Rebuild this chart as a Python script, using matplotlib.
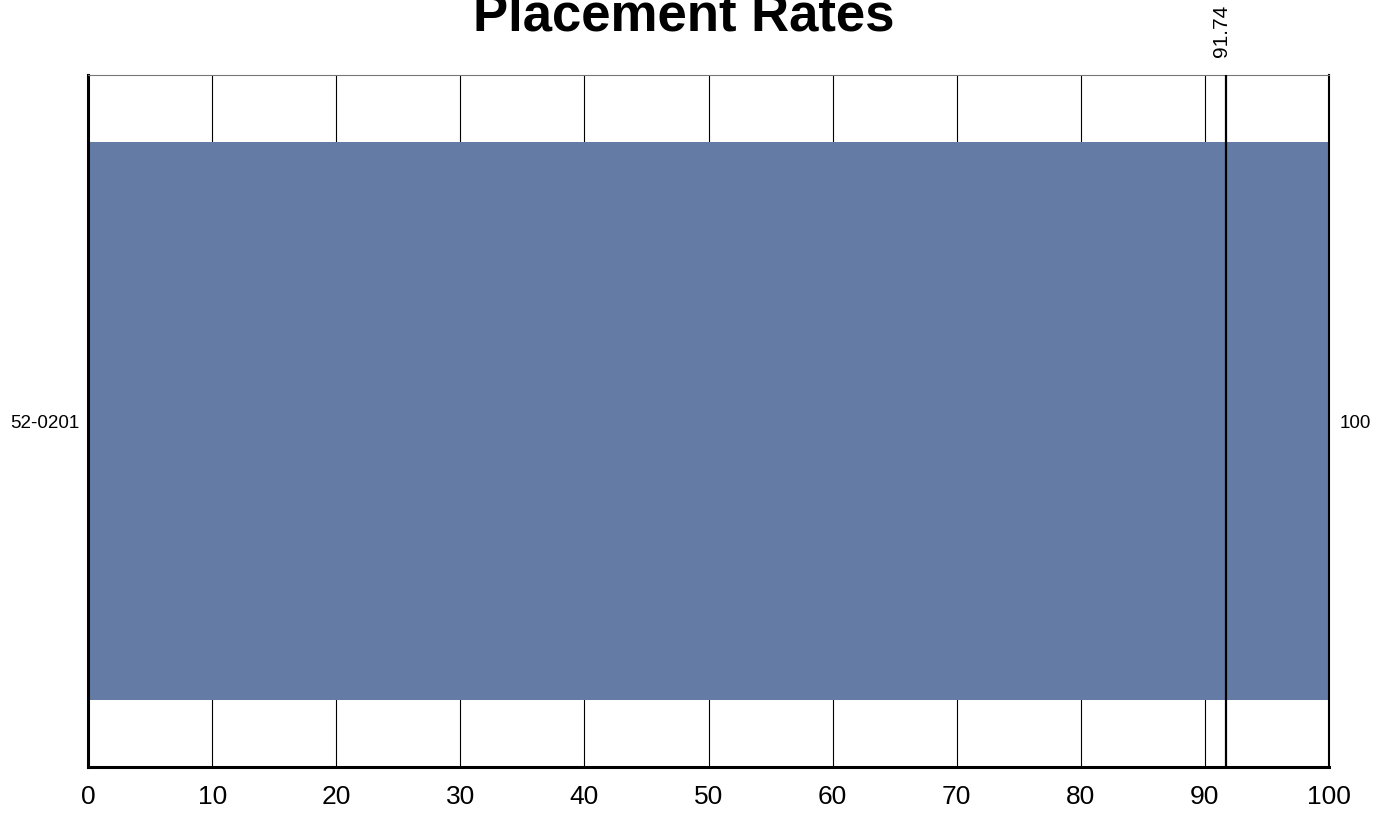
import numpy as np
import matplotlib
matplotlib.use('Agg')
import matplotlib.pyplot as plt

plt.rcParams['font.family'] = ['Liberation Sans', 'DejaVu Sans']

# data
programs = ['52-0201']
rates = [100]
ref_value = 91.74
xticks = [0, 10, 20, 30, 40, 50, 60, 70, 80, 90, 100]

fig = plt.figure(figsize=(13.89, 8.13), dpi=100)
ax = fig.add_axes([0.0634, 0.0566, 0.8934, 0.8511])

y = np.arange(len(programs))
for xv in xticks[1:-1]:
    ax.axvline(xv, color='black', lw=0.8, zorder=1)
ax.barh(y, rates, height=0.806, color='#637BA5', zorder=2)
ax.axvline(ref_value, color='black', lw=1.6, zorder=3)

ax.set_xlim(0, 100)
ax.set_ylim(-0.5, 0.5)
ax.set_xticks(xticks)
ax.set_xticklabels([str(v) for v in xticks], fontsize=19)
ax.tick_params(axis='x', length=0, pad=13)
ax.set_yticks(y)
ax.set_yticklabels(programs, fontsize=13.5)
ax.tick_params(axis='y', length=0, pad=6.5)

ax.spines['left'].set_linewidth(2.2)
ax.spines['bottom'].set_linewidth(2.2)
ax.spines['right'].set_linewidth(1.5)
ax.spines['top'].set_linewidth(0.8)
ax.spines['top'].set_color('#777777')

ax2 = ax.twinx()
ax2.set_ylim(ax.get_ylim())
ax2.set_yticks(y)
ax2.set_yticklabels([str(r) for r in rates], fontsize=13.5)
ax2.tick_params(axis='y', length=0, pad=7.5)
for s in ax2.spines.values():
    s.set_visible(False)

# label of the reference line, just left of it
ax.text(ref_value - 0.37, 1.026, '%.2f' % ref_value, transform=ax.get_xaxis_transform(),
        rotation=90, ha='center', va='bottom', fontsize=15)

fig.text(0.492, 0.963, 'Placement Rates', ha='center', va='baseline',
         fontsize=38, fontweight='bold')

fig.savefig('out.png', dpi=100)
